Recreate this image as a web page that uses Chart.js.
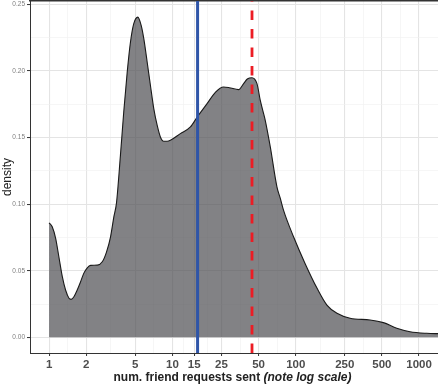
<!DOCTYPE html>
<html>
<head>
<meta charset="utf-8">
<script src="https://cdn.jsdelivr.net/npm/chart.js@4.4.1/dist/chart.umd.min.js"></script>
<style>
  html, body { margin: 0; padding: 0; background: #fff; }
  #wrap { position: relative; width: 438px; height: 384px; }
  #x-title {
    position: absolute; left: 0; width: 465px; top: 370px;
    text-align: center; font: bold 12px "Liberation Sans", Arial, sans-serif;
    color: #222; white-space: nowrap;
  }
</style>
</head>
<body>
<div id="wrap">
  <canvas id="density-chart"></canvas>
  <div id="x-title">num. friend requests sent <i>(note log scale)</i></div>
</div>
<script>
// density curve (x = friend requests, log axis)
const friendRequests = [1, 1.06, 1.13, 1.2, 1.28, 1.36, 1.45, 1.51, 1.59, 1.69,
  1.8, 1.91, 2.04, 2.17, 2.46, 2.7, 2.92, 3.15, 3.35, 3.52,
  3.79, 4.03, 4.3, 4.57, 4.86, 5.24, 5.58, 5.86, 6.24, 6.63,
  7.06, 7.52, 7.99, 8.5, 9.06, 9.63, 11.6, 14, 15.9, 19.1,
  22.3, 26, 28.9, 34.4, 37.8, 40.5, 44.2, 48.5, 51.6, 54.9,
  56.6, 62.2, 70.4, 74.9, 79.6, 96, 119, 149, 179, 216,
  276, 401, 514, 660, 845, 1154, 1480];
const densityValues = [0.086, 0.083, 0.0743, 0.0605, 0.0455, 0.0355, 0.0293, 0.0285, 0.0305, 0.0355,
  0.0417, 0.048, 0.0522, 0.054, 0.0542, 0.0567, 0.064, 0.0755, 0.0905, 0.101,
  0.1368, 0.1692, 0.1992, 0.2218, 0.2356, 0.2405, 0.2343, 0.2243, 0.2068, 0.1893,
  0.1718, 0.1593, 0.1505, 0.1473, 0.1473, 0.148, 0.153, 0.158, 0.1655, 0.1755,
  0.184, 0.188, 0.1875, 0.186, 0.1905, 0.194, 0.195, 0.1905, 0.178, 0.168,
  0.163, 0.143, 0.113, 0.1045, 0.0955, 0.0755, 0.0555, 0.0368, 0.0242, 0.018,
  0.0143, 0.013, 0.011, 0.0068, 0.0042, 0.003, 0.0027];

const medianRequests = 16;
const meanRequests = 44.2;

const xMajorTicks = [1, 2, 5, 10, 15, 25, 50, 100, 250, 500, 1000];
const xMinorTicks = [1.414, 3.162, 7.071, 12.25, 19.36, 35.36, 70.71, 158.1, 353.6, 707.1];
const yMajorTicks = [0, 0.05, 0.1, 0.15, 0.2, 0.25];
const yMinorTicks = [0.025, 0.075, 0.125, 0.175, 0.225];

const xMin = 0.708, xMax = 1425;
const yMin = -0.0118, yMax = 0.2526;

const font = '"Liberation Sans", Arial, sans-serif';

const isMajor = (list, v) => list.some((m) => Math.abs(m - v) < 1e-9);

function gridOpts(majors) {
  return {
    color: (c) => (c.tick && isMajor(majors, c.tick.value) ? "#e4e4e4" : "#f0f0f0"),
    lineWidth: (c) => (c.tick && isMajor(majors, c.tick.value) ? 1.1 : 0.6),
    tickColor: (c) => (c.tick && isMajor(majors, c.tick.value) ? "#333" : "rgba(0,0,0,0)"),
    tickWidth: 1,
    tickLength: 3,
  };
}

// keep the plot panel edge-to-edge like the original (no label overhang padding)
function noPad(scale) {
  scale.paddingTop = 0;
  scale.paddingBottom = 0;
  scale.paddingLeft = 0;
  scale.paddingRight = 0;
}

new Chart("density-chart", {
  type: "line",
  data: {
    datasets: [
      {
        label: "median",
        data: [{ x: medianRequests, y: yMin }, { x: medianRequests, y: yMax }],
        borderColor: "#2f55a8",
        borderWidth: 3,
        pointRadius: 0,
        fill: false,
        order: 2,
      },
      {
        label: "mean",
        data: [{ x: meanRequests, y: yMin }, { x: meanRequests, y: yMax }],
        borderColor: "#ec1c24",
        borderWidth: 2.8,
        borderDash: [9.5, 9],
        pointRadius: 0,
        fill: false,
        order: 1,
      },
      {
        label: "density",
        data: friendRequests.map((v, i) => ({ x: v, y: densityValues[i] })),
        borderColor: "#1a1a1a",
        borderWidth: 1.1,
        backgroundColor: "rgba(77, 77, 81, 0.7)",
        fill: "origin",
        cubicInterpolationMode: "monotone",
        pointRadius: 0,
        order: 3,
      },
    ],
  },
  options: {
    responsive: true,
    maintainAspectRatio: false,
    animation: false,
    layout: { padding: { top: 1 } },
    plugins: { legend: { display: false }, tooltip: { enabled: false } },
    scales: {
      x: {
        type: "logarithmic",
        min: xMin,
        max: xMax,
        afterBuildTicks: (scale) => {
          scale.ticks = [...xMajorTicks, ...xMinorTicks].map((v) => ({ value: v }));
        },
        afterFit: (scale) => { scale.height = 31; noPad(scale); },
        ticks: {
          autoSkip: false,
          maxRotation: 0,
          padding: 2,
          color: "#4d4d4d",
          font: { family: font, size: 11.5, weight: "bold" },
          callback: (v) => (isMajor(xMajorTicks, v) ? String(v) : ""),
        },
        grid: gridOpts(xMajorTicks),
        border: { display: true, color: "#333", width: 1 },
      },
      xTop: {
        type: "linear",
        position: "top",
        afterFit: (scale) => { scale.height = 0; noPad(scale); },
        ticks: { display: false },
        grid: { display: false, drawTicks: false },
        border: { display: true, color: "#333", width: 1.5 },
      },
      y: {
        type: "linear",
        min: yMin,
        max: yMax,
        afterBuildTicks: (scale) => {
          scale.ticks = [...yMajorTicks, ...yMinorTicks].map((v) => ({ value: v }));
        },
        afterFit: (scale) => { scale.width = 30; noPad(scale); },
        ticks: {
          autoSkip: false,
          padding: 2,
          color: "#808080",
          font: { family: font, size: 6.5 },
          callback: (v) => (isMajor(yMajorTicks, v) ? v.toFixed(2) : ""),
        },
        grid: gridOpts(yMajorTicks),
        border: { display: true, color: "#333", width: 1 },
        title: {
          display: true,
          text: "density",
          color: "#222",
          padding: 0,
          font: { family: font, size: 12 },
        },
      },
    },
  },
});
</script>
</body>
</html>
